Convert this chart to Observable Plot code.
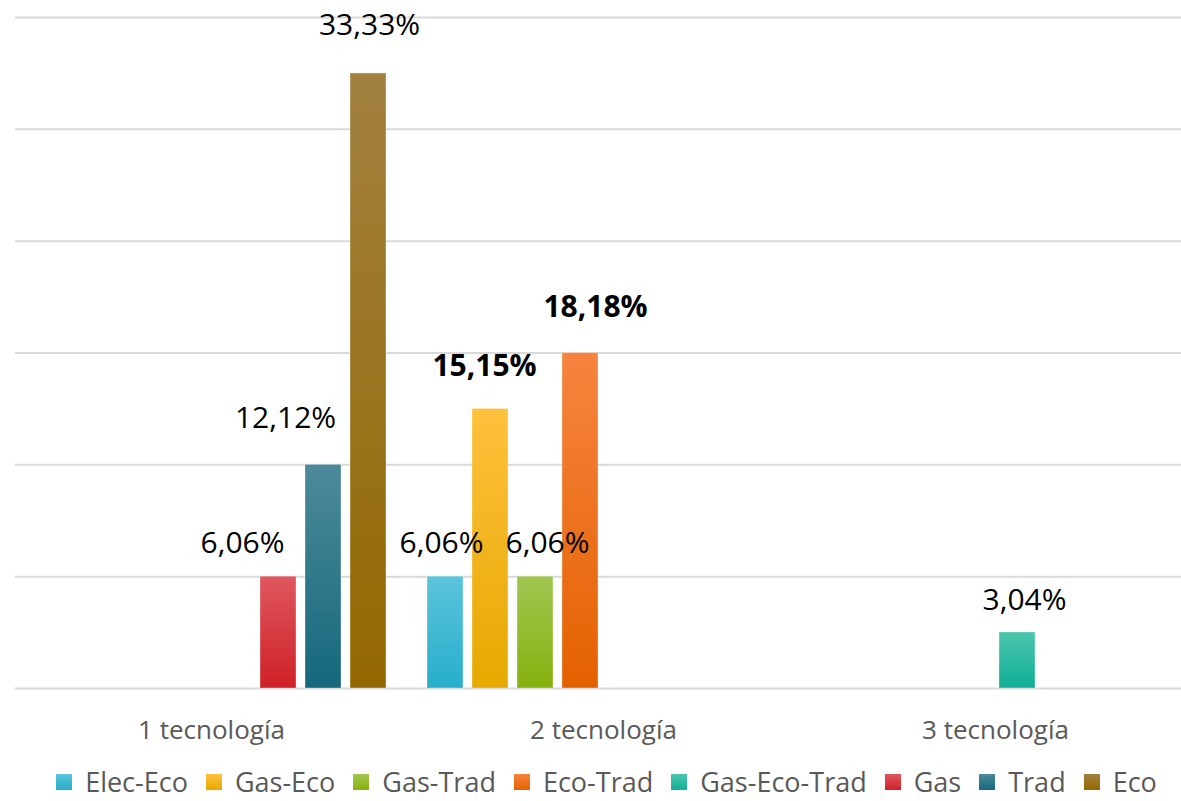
<!DOCTYPE html>
<html>
<head>
<meta charset="utf-8">
<script src="https://cdn.jsdelivr.net/npm/d3@7"></script>
<script src="https://cdn.jsdelivr.net/npm/@observablehq/plot@0.6"></script>
<style>
  html, body { margin: 0; padding: 0; background: #ffffff; overflow: hidden; }
  #chart svg { display: block; }
  #legend {
    display: flex; justify-content: center; align-items: center;
    height: 35px; padding-left: 32px; box-sizing: border-box;
    font-family: "Open Sans", sans-serif; font-size: 27px; color: #595959;
    line-height: 1;
  }
  #legend .item { display: flex; align-items: center; margin-right: 18px; }
  #legend .item:last-child { margin-right: 0; }
  #legend .sw { width: 16px; height: 16px; margin-right: 13px; }
</style>
</head>
<body>
<div id="chart"></div>
<div id="legend"></div>
<script>
// ---- Data ----
const categories = ["1 tecnología", "2 tecnología", "3 tecnología"];
const seriesNames = ["Elec-Eco", "Gas-Eco", "Gas-Trad", "Eco-Trad", "Gas-Eco-Trad", "Gas", "Trad", "Eco"];
const barCategory = ["1 tecnología", "1 tecnología", "1 tecnología", "2 tecnología", "2 tecnología", "2 tecnología", "2 tecnología", "3 tecnología"];
const barSeries = ["Gas", "Trad", "Eco", "Elec-Eco", "Gas-Eco", "Gas-Trad", "Eco-Trad", "Gas-Eco-Trad"];
const barValue = [6.06, 12.12, 33.33, 6.06, 15.15, 6.06, 18.18, 3.04];
const boldSeries = ["Gas-Eco", "Eco-Trad"];
// gridline values (steps of 2/33)
const gridValues = [0, 1, 2, 3, 4, 5, 6].map(k => k * 200 / 33);

// ---- Styles ----
const colorTop = ["#5CC4DC", "#FFC03C", "#A0C650", "#F6843F", "#4DC5AE", "#E0585F", "#4D8A99", "#A2803F"];
const colorBottom = ["#27AECB", "#E6A900", "#86B20E", "#E46100", "#0FAE96", "#CF2027", "#15687C", "#936800"];
// manual label nudges [dx, dy] like the original chart
const labelNudge = {
  "Gas": [-36, -33], "Trad": [-38, -46], "Eco": [1, -48],
  "Elec-Eco": [-4, -33], "Gas-Eco": [-6, -43], "Gas-Trad": [12, -33],
  "Eco-Trad": [15, -46], "Gas-Eco-Trad": [7, -32]
};

const data = barSeries.map((s, i) => ({ category: barCategory[i], series: s, value: barValue[i] }));
const fmt = v => d3.format(".2f")(v).replace(".", ",") + "%";
const gradId = s => `url(#grad${seriesNames.indexOf(s)})`;

const svg = Plot.plot({
  width: 1181,
  height: 764,
  marginLeft: 14,
  marginRight: -10,
  marginTop: 17,
  marginBottom: 76,
  style: { fontFamily: "'Open Sans', sans-serif", color: "#595959", background: "#ffffff" },
  fx: { domain: categories, padding: 0, label: null },
  x: { domain: seriesNames, paddingInner: 0.19, paddingOuter: 0.41, axis: null },
  y: { domain: [0, 1200 / 33], axis: null },
  color: { type: "identity" },
  marks: [
    Plot.gridY(gridValues, { stroke: "#d9d9d9", strokeOpacity: 1, strokeWidth: 2 }),
    Plot.barY(data, {
      fx: "category", x: "series", y: "value",
      fill: d => gradId(d.series),
      stroke: "#ffffff", strokeOpacity: 0.35, strokeWidth: 1
    }),
    ...data.map(d => Plot.text([d], {
      fx: "category", x: "series", y: "value",
      text: r => fmt(r.value),
      dx: labelNudge[d.series][0], dy: labelNudge[d.series][1],
      fontSize: 30, fill: "#000000",
      fontWeight: boldSeries.includes(d.series) ? "bold" : "normal"
    })),
    Plot.axisFx({ anchor: "bottom", tickSize: 0, tickPadding: 32, fontSize: 26, label: null })
  ]
});

// gradients
const defs = d3.select(svg).insert("defs", ":first-child");
seriesNames.forEach((s, i) => {
  const g = defs.append("linearGradient").attr("id", "grad" + i)
    .attr("x1", 0).attr("y1", 0).attr("x2", 0).attr("y2", 1);
  g.append("stop").attr("offset", "0%").attr("stop-color", colorTop[i]);
  g.append("stop").attr("offset", "100%").attr("stop-color", colorBottom[i]);
});
document.getElementById("chart").appendChild(svg);

// legend
const legend = document.getElementById("legend");
seriesNames.forEach((s, i) => {
  const item = document.createElement("div");
  item.className = "item";
  const sw = document.createElement("span");
  sw.className = "sw";
  sw.style.background = `linear-gradient(${colorTop[i]}, ${colorBottom[i]})`;
  const label = document.createElement("span");
  label.textContent = s;
  item.appendChild(sw);
  item.appendChild(label);
  legend.appendChild(item);
});
</script>
</body>
</html>
